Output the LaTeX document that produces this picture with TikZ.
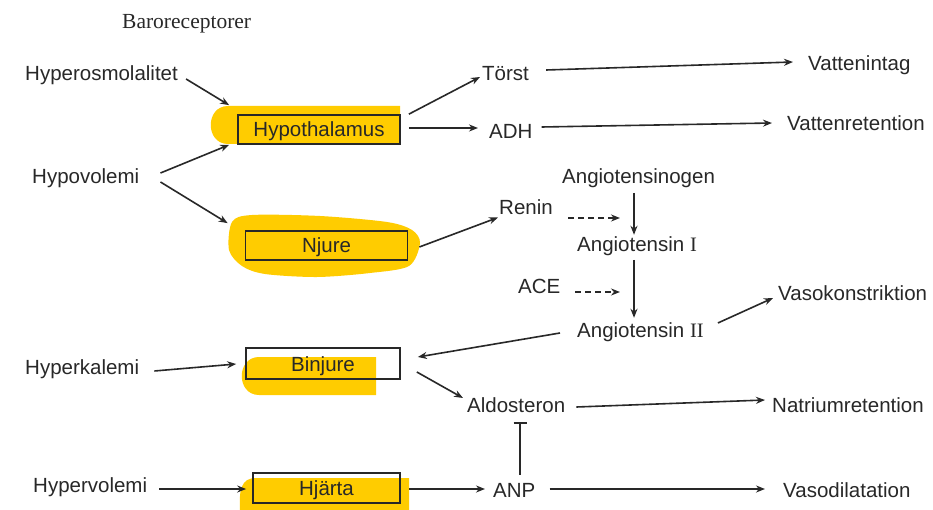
\documentclass[tikz,border=0pt]{standalone}
\usepackage{fontspec}
\setmainfont{Liberation Sans}
\newfontfamily\serifbaro{Liberation Serif}
\usetikzlibrary{arrows.meta,calc}
\definecolor{hl}{RGB}{255,204,0}
\definecolor{ink}{RGB}{40,40,40}
\begin{document}
\begin{tikzpicture}[x=1pt,y=-1pt,
  txt/.style={inner sep=0pt,anchor=base west,text height=15pt,text depth=4pt,font=\fontsize{20.5}{24}\selectfont,text=ink},
  organ/.style={draw=ink,line width=1.7pt,inner sep=0pt,text height=15pt,text depth=0pt,font=\fontsize{20.5}{24}\selectfont,text=ink},
  arr/.style={draw=ink,line width=1.6pt,-{Stealth[length=9pt,width=7pt]}},
  darr/.style={arr,dash pattern=on 6pt off 4pt},
  inh/.style={draw=ink,line width=1.6pt,-{Bar[width=13pt]}},
  hlfill/.style={fill=hl}]
\useasboundingbox (0,0) rectangle (933,510);
\fill[white] (0,0) rectangle (933,510);
% highlights
\fill[hlfill] (400,106) -- (228,106) .. controls (205,106) and (205,144) .. (228,144) -- (400,144) -- cycle;
\fill[hlfill] plot[smooth cycle] coordinates {(232,222) (252,215) (320,216) (387,222) (412,230) (420,243) (409,266) (370,273) (317,277) (265,274) (242,266) (229,250)};
\fill[hlfill] (376,357) -- (259,357) .. controls (236,357) and (236,395) .. (259,395) -- (376,395) -- cycle;
\fill[hlfill] (409,478) -- (256,478) .. controls (241,478) and (239,490) .. (240,510) -- (409,510) -- cycle;
% boxes
\node[organ,minimum width=162pt,minimum height=29pt] (hypothal) at (319,129.5) {Hypothalamus};
\node[organ,minimum width=162pt,minimum height=29pt] (njure) at (326.5,245.5) {Njure};
\node[organ,minimum width=154pt,minimum height=31pt] (binjure) at (323,363.5) {Binjure};
\node[organ,minimum width=147pt,minimum height=30pt] (hjarta) at (326.5,488) {Hjärta};
% texts
\node[inner sep=0pt,anchor=base west,font=\serifbaro\fontsize{21.5}{24}\selectfont,text=ink] (baro) at (122,29) {Baroreceptorer};
\node[txt] (hyperosm) at (25,81) {Hyperosmolalitet};
\node[txt] (hypovol) at (32,184) {Hypovolemi};
\node[txt] (hyperkal) at (25,374) {Hyperkalemi};
\node[txt] (hypervol) at (33,492) {Hypervolemi};
\node[txt] (torst) at (482,81) {Törst};
\node[txt] (adh) at (489,139) {ADH};
\node[txt] (vintag) at (808,71) {Vattenintag};
\node[txt] (vret) at (787,131) {Vattenretention};
\node[txt] (angiogen) at (562,184) {Angiotensinogen};
\node[txt] (renin) at (499,215) {Renin};
\node[txt] (angI) at (577,252) {Angiotensin {\serifbaro I}};
\node[txt] (ace) at (518,294) {ACE};
\node[txt] (angII) at (577,337) {Angiotensin {\serifbaro II}};
\node[txt] (vasok) at (778,300) {Vasokonstriktion};
\node[txt] (aldo) at (467,412) {Aldosteron};
\node[txt] (natr) at (772,412) {Natriumretention};
\node[txt] (anp) at (493,497) {ANP};
\node[txt] (vasod) at (783,497) {Vasodilatation};
% connectors
\draw[arr] ($(hyperosm.east)+(8,3.5)$) -- ($(hypothal.north west)+(-8,-9)$);
\draw[arr] ($(hypovol.east)+(21,-5.5)$) -- ($(hypothal.south west)+(-8,0)$);
\draw[arr] ($(hypovol.east)+(21,3.5)$) -- ($(njure.north west)+(-17,-7)$);
\draw[arr] ($(hypothal.north east)+(8,0)$) -- ($(torst.west)+(-2,1.5)$);
\draw[arr] ($(hypothal.east)+(8,-1.5)$) -- ($(adh.west)+(-11,-5.5)$);
\draw[arr] ($(torst.east)+(17,-5.5)$) -- ($(vintag.west)+(-15,-3.5)$);
\draw[arr] ($(adh.east)+(9,-6.5)$) -- ($(vret.west)+(-15,-2.5)$);
\draw[arr] ($(njure.east)+(11,1.5)$) -- ($(renin.west)+(-1,8)$);
\draw[darr] ($(renin.west)+(69,8.5)$) -- ($(renin.west)+(121,8.5)$);
\draw[arr] ($(angI.north west)+(57,-44)$) -- ($(angI.north west)+(57,-2)$);
\draw[darr] ($(ace.west)+(57,3.5)$) -- ($(ace.west)+(102,3.5)$);
\draw[arr] ($(angI.north west)+(57,23)$) -- ($(angII.north west)+(57,-4)$);
\draw[arr] ($(angII.east)+(14,-8.5)$) -- ($(vasok.west)+(-5,3.5)$);
\draw[arr] ($(angII.west)+(-17,1.5)$) -- ($(binjure.east)+(17,-6.5)$);
\draw[arr] ($(binjure.east)+(16,8.5)$) -- ($(aldo.west)+(-4,-8.5)$);
\draw[arr] ($(aldo.east)+(11,0.5)$) -- ($(natr.west)+(-7,-6.5)$);
\draw[inh] ($(anp.north west)+(27,-7)$) -- ($(aldo.south west)+(53,6)$);
\draw[arr] ($(hyperkal.east)+(15,2.5)$) -- ($(binjure.west)+(-9,0.5)$);
\draw[arr] ($(hypervol.east)+(12,2.5)$) -- ($(hjarta.west)+(-6,1)$);
\draw[arr] ($(hjarta.east)+(8,1)$) -- ($(anp.west)+(-8,-2.5)$);
\draw[arr] ($(anp.east)+(14,-2.5)$) -- ($(vasod.west)+(-18,-2.5)$);
\end{tikzpicture}
\end{document}
